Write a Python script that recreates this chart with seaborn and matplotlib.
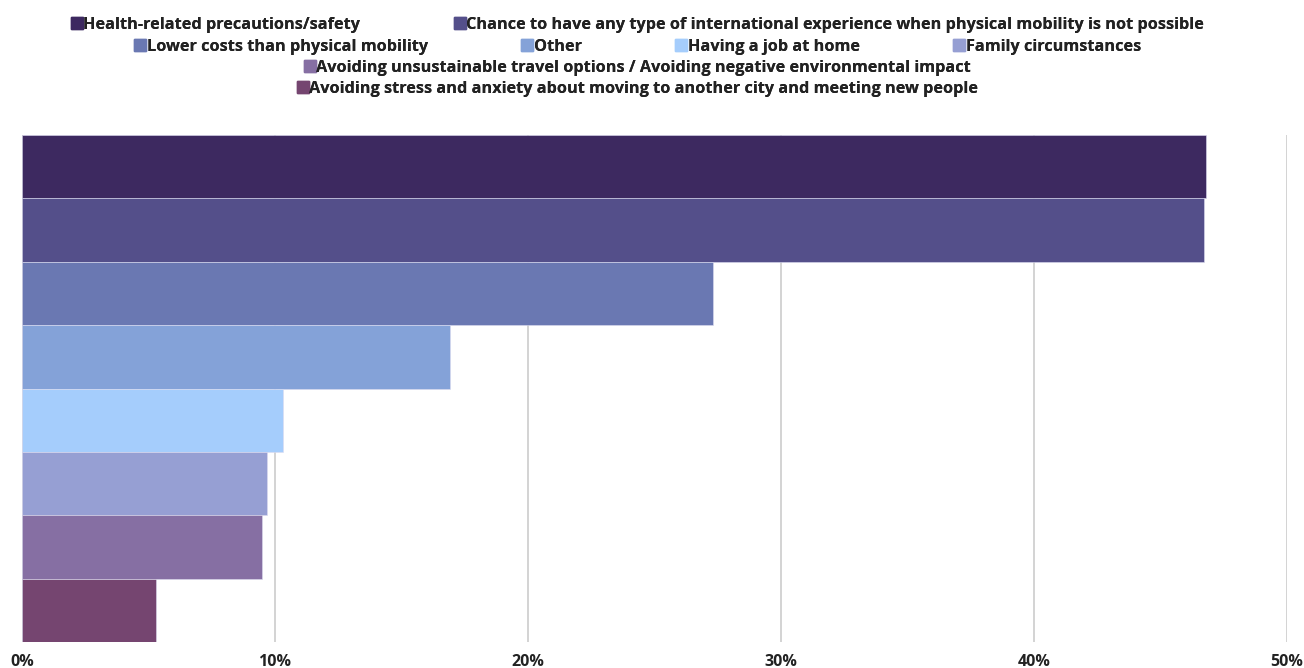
import matplotlib
matplotlib.use("Agg")
import matplotlib.pyplot as plt
from matplotlib.lines import Line2D
from matplotlib.ticker import FuncFormatter
import seaborn as sns
import pandas as pd

categories = [
    "Health-related precautions/safety",
    "Chance to have any type of international experience when physical mobility is not possible",
    "Lower costs than physical mobility",
    "Other",
    "Having a job at home",
    "Family circumstances",
    "Avoiding unsustainable travel options / Avoiding negative environmental impact",
    "Avoiding stress and anxiety about moving to another city and meeting new people",
]
values = [46.8, 46.7, 27.3, 16.9, 10.3, 9.7, 9.5, 5.3]
colors = ["#3d2960", "#544f8a", "#6a78b2", "#84a2d8", "#a5cdfc", "#969fd3", "#866fa3", "#754570"]
x_ticks = [0, 10, 20, 30, 40, 50]
legend_rows = [[0, 1], [2, 3, 4, 5], [6], [7]]

sns.set_theme(style="white")
plt.rcParams["font.family"] = ["Open Sans", "DejaVu Sans"]

df = pd.DataFrame({"category": categories, "value": values})

fig = plt.figure(figsize=(13.04, 6.68), dpi=100)
W, H = 1304, 668
ax = fig.add_axes([22 / W, 1 - 642 / H, (1287 - 22) / W, (642 - 135) / H])

sns.barplot(data=df, x="value", y="category", hue="category", palette=colors,
            order=categories, hue_order=categories, orient="h", width=1.0,
            dodge=False, legend=False, ax=ax, saturation=1,
            edgecolor="#dcdcf0", linewidth=0.4)

ax.set_xlim(0, 50)
ax.set_xticks(x_ticks)
ax.xaxis.set_major_formatter(FuncFormatter(lambda v, p: f"{int(v)}%"))
ax.grid(axis="x", color="#cccccc", linewidth=1.2)
ax.set_axisbelow(True)
ax.set_yticks([])
ax.set_xlabel("")
ax.set_ylabel("")
for s in ax.spines.values():
    s.set_visible(False)
ax.tick_params(axis="x", length=0, pad=9, labelsize=11.5, labelcolor="#222222")
for t in ax.get_xticklabels():
    t.set_fontweight("bold")

row_y = [25, 47, 68, 89]
for r, idxs in enumerate(legend_rows):
    handles = [Line2D([0], [0], marker="s", linestyle="none", markersize=8,
                      markerfacecolor=colors[i], markeredgecolor=colors[i]) for i in idxs]
    labels = [categories[i] for i in idxs]
    leg = fig.legend(handles, labels, loc="center", bbox_to_anchor=(638 / W, 1 - row_y[r] / H),
                     ncol=len(idxs), frameon=False, handlelength=0.6, handletextpad=0.12,
                     columnspacing=5.8, borderaxespad=0, borderpad=0,
                     prop={"weight": "bold", "size": 11.7})
    for t in leg.get_texts():
        t.set_color("#222222")
    fig.add_artist(leg)

fig.savefig("out.png", dpi=100)
